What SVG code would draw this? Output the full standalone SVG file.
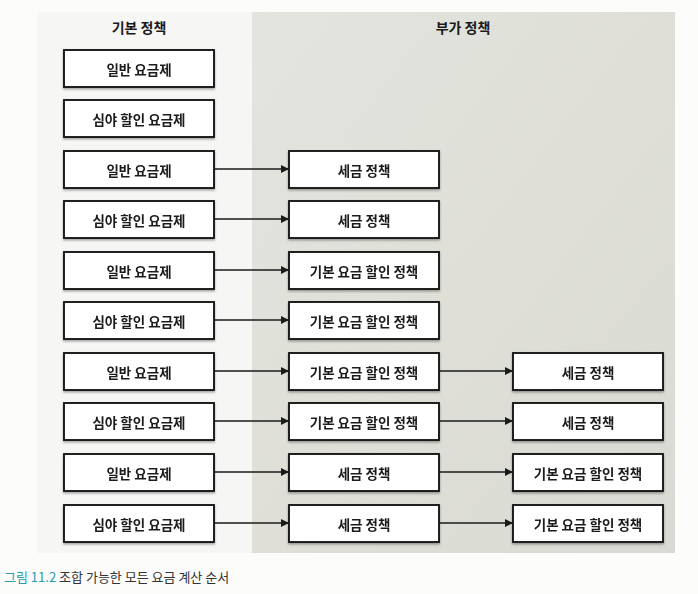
<svg xmlns="http://www.w3.org/2000/svg" width="698" height="594" viewBox="0 0 698 594">
<defs>
<style>
.box{fill:#fff;stroke:#1a1a1a;stroke-width:1.9}
.t{font-family:"Noto Sans CJK KR","Noto Sans",sans-serif;font-size:13.5px;font-weight:bold;fill:#1a1a1a;text-anchor:middle;dominant-baseline:central}
.h{font-family:"Noto Sans CJK KR","Noto Sans",sans-serif;font-size:14px;font-weight:bold;fill:#1a1a1a;text-anchor:middle}
.c{stroke:#1a1a1a;stroke-width:1.4;fill:none;marker-end:url(#ah)}
</style>
<marker id="ah" viewBox="0 0 10 10" refX="10" refY="5" markerWidth="9" markerHeight="8" markerUnits="userSpaceOnUse" orient="auto">
<path d="M0,0 L10,5 L0,10 z" fill="#1a1a1a"/>
</marker>
<linearGradient id="rg" x1="0" y1="0" x2="1" y2="1">
<stop offset="0" stop-color="#e4e4df"/>
<stop offset="0.5" stop-color="#dfdfd8"/>
<stop offset="1" stop-color="#dadad4"/>
</linearGradient>
<filter id="sh" x="-5%" y="-10%" width="110%" height="130%">
<feDropShadow dx="0" dy="1.5" stdDeviation="0.8" flood-color="#000" flood-opacity="0.35"/>
</filter>
</defs>
<rect width="698" height="594" fill="#fcfcfb"/>
<rect x="37" y="12" width="215" height="541" fill="#f6f6f5"/>
<rect x="252" y="12" width="423" height="541" fill="url(#rg)"/>
<text class="h" x="139" y="33">기본 정책</text>
<text class="h" x="463" y="33">부가 정책</text>

<g id="connectors">
<line class="c" x1="214" y1="169" x2="289" y2="169"/>
<line class="c" x1="214" y1="219" x2="289" y2="219"/>
<line class="c" x1="214" y1="270" x2="289" y2="270"/>
<line class="c" x1="214" y1="320" x2="289" y2="320"/>
<line class="c" x1="214" y1="371" x2="289" y2="371"/>
<line class="c" x1="214" y1="421" x2="289" y2="421"/>
<line class="c" x1="214" y1="472" x2="289" y2="472"/>
<line class="c" x1="214" y1="523" x2="289" y2="523"/>
<line class="c" x1="439" y1="371" x2="513" y2="371"/>
<line class="c" x1="439" y1="421" x2="513" y2="421"/>
<line class="c" x1="439" y1="472" x2="513" y2="472"/>
<line class="c" x1="439" y1="523" x2="513" y2="523"/>
</g>

<g id="b1" filter="url(#sh)"><rect class="box" x="64" y="50" width="150" height="37"/><text class="t" x="139" y="68.5">일반 요금제</text></g>
<g id="b2" filter="url(#sh)"><rect class="box" x="64" y="100" width="150" height="37"/><text class="t" x="139" y="118.5">심야 할인 요금제</text></g>
<g id="b3" filter="url(#sh)"><rect class="box" x="64" y="151" width="150" height="37"/><text class="t" x="139" y="169.5">일반 요금제</text></g>
<g id="b4" filter="url(#sh)"><rect class="box" x="64" y="201" width="150" height="37"/><text class="t" x="139" y="219.5">심야 할인 요금제</text></g>
<g id="b5" filter="url(#sh)"><rect class="box" x="64" y="252" width="150" height="37"/><text class="t" x="139" y="270.5">일반 요금제</text></g>
<g id="b6" filter="url(#sh)"><rect class="box" x="64" y="302" width="150" height="37"/><text class="t" x="139" y="320.5">심야 할인 요금제</text></g>
<g id="b7" filter="url(#sh)"><rect class="box" x="64" y="353" width="150" height="37"/><text class="t" x="139" y="371.5">일반 요금제</text></g>
<g id="b8" filter="url(#sh)"><rect class="box" x="64" y="403" width="150" height="37"/><text class="t" x="139" y="421.5">심야 할인 요금제</text></g>
<g id="b9" filter="url(#sh)"><rect class="box" x="64" y="454" width="150" height="37"/><text class="t" x="139" y="472.5">일반 요금제</text></g>
<g id="b10" filter="url(#sh)"><rect class="box" x="64" y="505" width="150" height="37"/><text class="t" x="139" y="523.5">심야 할인 요금제</text></g>

<g id="a3" filter="url(#sh)"><rect class="box" x="289" y="151" width="150" height="37"/><text class="t" x="364" y="169.5">세금 정책</text></g>
<g id="a4" filter="url(#sh)"><rect class="box" x="289" y="201" width="150" height="37"/><text class="t" x="364" y="219.5">세금 정책</text></g>
<g id="a5" filter="url(#sh)"><rect class="box" x="289" y="252" width="150" height="37"/><text class="t" x="364" y="270.5">기본 요금 할인 정책</text></g>
<g id="a6" filter="url(#sh)"><rect class="box" x="289" y="302" width="150" height="37"/><text class="t" x="364" y="320.5">기본 요금 할인 정책</text></g>
<g id="a7" filter="url(#sh)"><rect class="box" x="289" y="353" width="150" height="37"/><text class="t" x="364" y="371.5">기본 요금 할인 정책</text></g>
<g id="a8" filter="url(#sh)"><rect class="box" x="289" y="403" width="150" height="37"/><text class="t" x="364" y="421.5">기본 요금 할인 정책</text></g>
<g id="a9" filter="url(#sh)"><rect class="box" x="289" y="454" width="150" height="37"/><text class="t" x="364" y="472.5">세금 정책</text></g>
<g id="a10" filter="url(#sh)"><rect class="box" x="289" y="505" width="150" height="37"/><text class="t" x="364" y="523.5">세금 정책</text></g>

<g id="c7" filter="url(#sh)"><rect class="box" x="513" y="353" width="150" height="37"/><text class="t" x="588" y="371.5">세금 정책</text></g>
<g id="c8" filter="url(#sh)"><rect class="box" x="513" y="403" width="150" height="37"/><text class="t" x="588" y="421.5">세금 정책</text></g>
<g id="c9" filter="url(#sh)"><rect class="box" x="513" y="454" width="150" height="37"/><text class="t" x="588" y="472.5">기본 요금 할인 정책</text></g>
<g id="c10" filter="url(#sh)"><rect class="box" x="513" y="505" width="150" height="37"/><text class="t" x="588" y="523.5">기본 요금 할인 정책</text></g>

<text x="4" y="582" font-family="Noto Sans CJK KR, Noto Sans, sans-serif" font-size="13"><tspan fill="#2a9bb0">그림 11.2</tspan><tspan fill="#333" dx="3">조합 가능한 모든 요금 계산 순서</tspan></text>
</svg>
